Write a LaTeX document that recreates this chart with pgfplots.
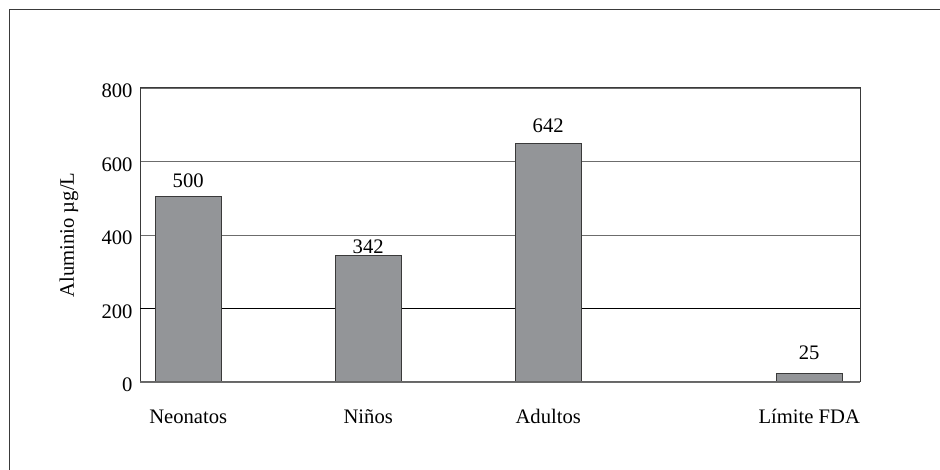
\documentclass[border=0pt]{standalone}
\usepackage{fontspec}
\setmainfont{Liberation Serif}
\usepackage{pgfplots}
\pgfplotsset{compat=1.18}

\definecolor{barfill}{RGB}{147,149,152}
\definecolor{frame}{RGB}{58,58,58}

\begin{document}
\begin{tikzpicture}[x=1bp,y=1bp]
\useasboundingbox (0,0) rectangle (940,470);
% outer frame (only top and left edges are visible)
\draw[frame, line width=1.5bp] (9.5,-10) -- (9.5,460.5) -- (950,460.5);

\begin{axis}[
	at={(140bp,88bp)}, anchor=south west,
	scale only axis, width=720bp, height=294bp,
	font=\fontsize{20.7}{24}\selectfont,
	/pgf/number format/assume math mode=true,
	xmin=0.7322, xmax=4.7322,
	ymin=0, ymax=800,
	ytick={0,200,400,600,800},
	xtick={1,2,3,4.45},
	xticklabels={Neonatos,Niños,Adultos,Límite FDA},
	major tick length=0pt,
	ymajorgrids,
	grid style={gray!85!black, line width=0.9bp},
	extra y ticks={200},
	extra y tick labels={},
	extra y tick style={grid style={black, line width=0.9bp}},
	axis line style={frame, line width=1bp},
	xticklabel style={anchor=base, yshift=-42bp},
	yticklabel style={xshift=-4bp, yshift=-3bp},
	ylabel={Aluminio µg/L},
	ylabel style={at={(axis description cs:-0.0986,0.5)}, anchor=center},
]
\addplot[ybar, bar width=66bp, fill=barfill, draw=frame, line width=0.9bp]
	coordinates {(1,505) (2,345) (3,648) (4.45,23)};
% value labels, set where the reference puts them
\addplot[draw=none, mark=none, nodes near coords, point meta=explicit symbolic,
	nodes near coords style={anchor=base, font=\fontsize{20.7}{24}\selectfont}]
	coordinates {(1,528)[500] (2,351)[342] (3,678)[642] (4.45,60)[25]};
\draw[gray!80!black, line width=1bp] (rel axis cs:0,0) -- (rel axis cs:1,0);
\end{axis}
\end{tikzpicture}
\end{document}
